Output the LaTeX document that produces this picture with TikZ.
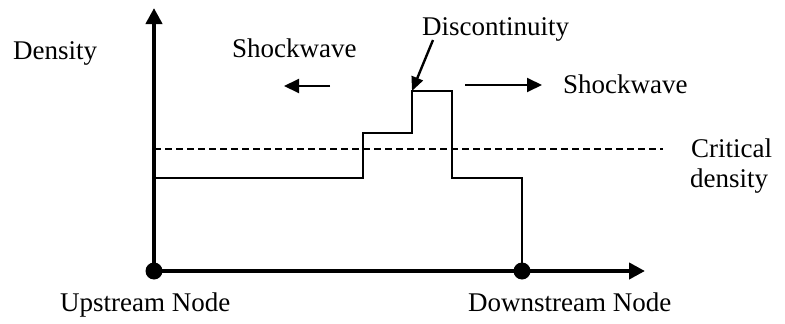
\documentclass[tikz,border=0pt]{standalone}
\usepackage{fontspec}
\setmainfont{Liberation Serif}
\usetikzlibrary{arrows.meta}
\begin{document}
\begin{tikzpicture}[x=1pt,y=-1pt,
  lbl/.style={inner sep=0pt,anchor=base west,font=\fontsize{27}{32}\selectfont},
  axisline/.style={line width=4pt,-{Triangle[length=16pt,width=16pt]}},
  profile/.style={line width=2pt,line join=miter},
  critline/.style={line width=1.6pt,dash pattern=on 7pt off 4pt},
  movearrow/.style={line width=2pt,-{Triangle[length=15pt,width=14pt]}},
  nodedot/.style={circle,fill=black,inner sep=0pt,minimum size=17pt}]
\useasboundingbox (0,0) rectangle (785,324);

% axes
\coordinate (origin) at (154,271);
\coordinate (ytip) at (154,8);
\coordinate (xtip) at (645,271);
\draw[axisline] (origin) -- (ytip);
\draw[axisline] (origin) -- (xtip);

% critical density level
\coordinate (c0) at (154,149);
\coordinate (c1) at (663,149);
\draw[critline] (c0) -- (c1);

% density profile along the link
\coordinate (p0) at (154,178);
\coordinate (p1) at (363,178);
\coordinate (p2) at (363,133);
\coordinate (p3) at (412,133);
\coordinate (p4) at (412,91);
\coordinate (p5) at (452,91);
\coordinate (p6) at (452,178);
\coordinate (p7) at (522,178);
\coordinate (p8) at (522,271);
\draw[profile] (p0) -- (p1) -- (p2) -- (p3) -- (p4) -- (p5) -- (p6) -- (p7) -- (p8);

% nodes at both ends
\node[nodedot] (up) at (154,271) {};
\node[nodedot] (down) at (522,271) {};

% labels
\node[lbl] (dens) at (13,59) {Density};
\node[lbl] (swl) at (232,57) {Shockwave};
\node[lbl] (disc) at (422,35) {Discontinuity};
\node[lbl] (swr) at (563,93) {Shockwave};
\node[lbl] (crit1) at (691,157) {Critical};
\node[lbl] (crit2) at (690,187) {density};
\node[lbl] (uplbl) at (60,311) {Upstream Node};
\node[lbl] (downlbl) at (468,311) {Downstream Node};

% shockwave directions
\coordinate (la0) at (330,86);
\coordinate (la1) at (284,86);
\coordinate (ra0) at (465,85);
\coordinate (ra1) at (542,85);
\draw[movearrow] (la0) -- (la1);
\draw[movearrow] (ra0) -- (ra1);

% pointer to the discontinuity
\coordinate (d0) at (433,40);
\draw[line width=2.4pt,-{Triangle[length=14pt,width=12pt]}] (d0) -- (p4);
\end{tikzpicture}
\end{document}
